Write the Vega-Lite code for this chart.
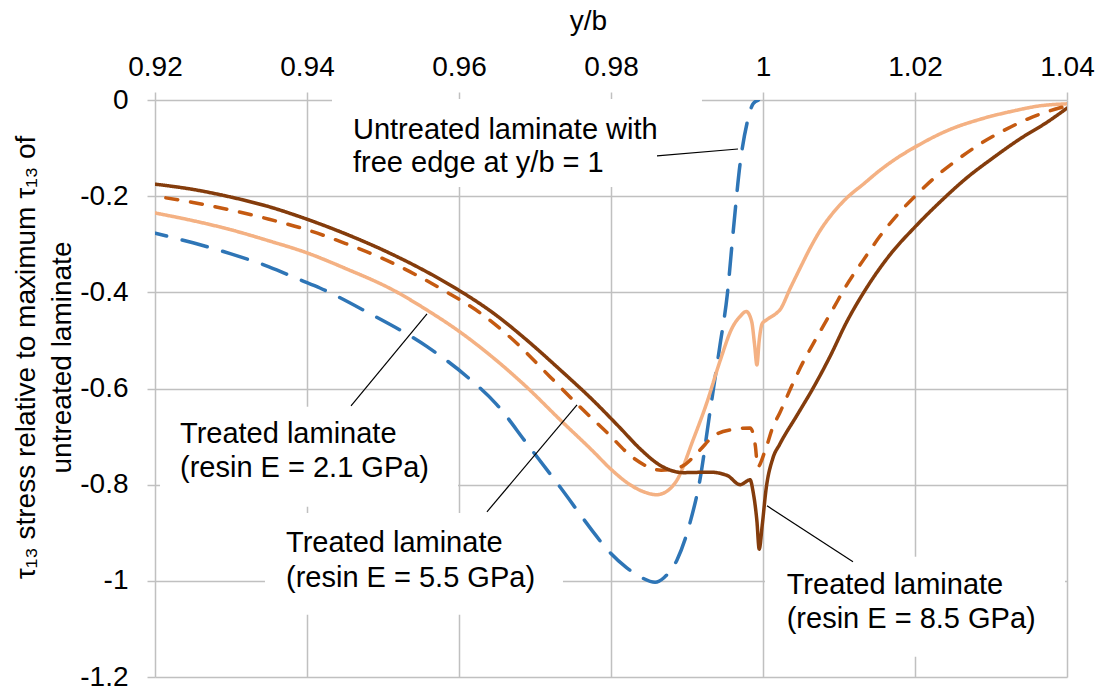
{
  "$schema": "https://vega.github.io/schema/vega-lite/v6.json",
  "width": 912,
  "height": 577,
  "autosize": {"type": "none"},
  "padding": {"left": 155, "top": 100, "right": 33, "bottom": 14},
  "background": "white",
  "config": {
    "view": {"stroke": null},
    "font": "Liberation Sans",
    "axis": {
      "labelFont": "Liberation Sans",
      "titleFont": "Liberation Sans",
      "labelFontSize": 28,
      "titleFontSize": 28,
      "labelColor": "#000000",
      "titleColor": "#000000",
      "titleFontWeight": "normal",
      "gridColor": "#C0C0C0",
      "gridWidth": 1.5,
      "tickColor": "#C0C0C0",
      "tickWidth": 1.5,
      "tickSize": 8,
      "domain": false
    }
  },
  "datasets": {
    "series": [
      {"s": "untreated", "x": 0.92, "y": -0.277},
      {"s": "untreated", "x": 0.925, "y": -0.297},
      {"s": "untreated", "x": 0.93, "y": -0.32},
      {"s": "untreated", "x": 0.935, "y": -0.347},
      {"s": "untreated", "x": 0.9391, "y": -0.374},
      {"s": "untreated", "x": 0.9417, "y": -0.391},
      {"s": "untreated", "x": 0.9479, "y": -0.441},
      {"s": "untreated", "x": 0.9558, "y": -0.513},
      {"s": "untreated", "x": 0.9611, "y": -0.576},
      {"s": "untreated", "x": 0.965, "y": -0.634},
      {"s": "untreated", "x": 0.9689, "y": -0.714},
      {"s": "untreated", "x": 0.9733, "y": -0.805},
      {"s": "untreated", "x": 0.9776, "y": -0.897},
      {"s": "untreated", "x": 0.9795, "y": -0.935},
      {"s": "untreated", "x": 0.982, "y": -0.972},
      {"s": "untreated", "x": 0.984, "y": -0.993},
      {"s": "untreated", "x": 0.9858, "y": -1.003},
      {"s": "untreated", "x": 0.987, "y": -0.993},
      {"s": "untreated", "x": 0.9887, "y": -0.956},
      {"s": "untreated", "x": 0.9904, "y": -0.879},
      {"s": "untreated", "x": 0.9917, "y": -0.79},
      {"s": "untreated", "x": 0.993, "y": -0.651},
      {"s": "untreated", "x": 0.9943, "y": -0.514},
      {"s": "untreated", "x": 0.9953, "y": -0.405},
      {"s": "untreated", "x": 0.9961, "y": -0.27},
      {"s": "untreated", "x": 0.997, "y": -0.131},
      {"s": "untreated", "x": 0.9979, "y": -0.048},
      {"s": "untreated", "x": 0.9987, "y": -0.008},
      {"s": "untreated", "x": 0.9994, "y": 0},

      {"s": "e21", "x": 0.92, "y": -0.235},
      {"s": "e21", "x": 0.925, "y": -0.251},
      {"s": "e21", "x": 0.93, "y": -0.27},
      {"s": "e21", "x": 0.935, "y": -0.293},
      {"s": "e21", "x": 0.94, "y": -0.318},
      {"s": "e21", "x": 0.945, "y": -0.35},
      {"s": "e21", "x": 0.9513, "y": -0.395},
      {"s": "e21", "x": 0.9558, "y": -0.437},
      {"s": "e21", "x": 0.96, "y": -0.481},
      {"s": "e21", "x": 0.9645, "y": -0.536},
      {"s": "e21", "x": 0.9689, "y": -0.597},
      {"s": "e21", "x": 0.9733, "y": -0.665},
      {"s": "e21", "x": 0.9776, "y": -0.73},
      {"s": "e21", "x": 0.98, "y": -0.768},
      {"s": "e21", "x": 0.9825, "y": -0.8},
      {"s": "e21", "x": 0.9845, "y": -0.816},
      {"s": "e21", "x": 0.986, "y": -0.821},
      {"s": "e21", "x": 0.9875, "y": -0.812},
      {"s": "e21", "x": 0.9887, "y": -0.79},
      {"s": "e21", "x": 0.9908, "y": -0.707},
      {"s": "e21", "x": 0.9926, "y": -0.63},
      {"s": "e21", "x": 0.9943, "y": -0.545},
      {"s": "e21", "x": 0.996, "y": -0.472},
      {"s": "e21", "x": 0.997, "y": -0.45},
      {"s": "e21", "x": 0.9978, "y": -0.44},
      {"s": "e21", "x": 0.9985, "y": -0.46},
      {"s": "e21", "x": 0.9989, "y": -0.51},
      {"s": "e21", "x": 0.9992, "y": -0.551},
      {"s": "e21", "x": 0.9995, "y": -0.5},
      {"s": "e21", "x": 0.9999, "y": -0.465},
      {"s": "e21", "x": 1.0005, "y": -0.457},
      {"s": "e21", "x": 1.0018, "y": -0.443},
      {"s": "e21", "x": 1.0022, "y": -0.437},
      {"s": "e21", "x": 1.0036, "y": -0.391},
      {"s": "e21", "x": 1.0049, "y": -0.349},
      {"s": "e21", "x": 1.0062, "y": -0.308},
      {"s": "e21", "x": 1.0075, "y": -0.272},
      {"s": "e21", "x": 1.0092, "y": -0.235},
      {"s": "e21", "x": 1.011, "y": -0.204},
      {"s": "e21", "x": 1.0132, "y": -0.175},
      {"s": "e21", "x": 1.0154, "y": -0.146},
      {"s": "e21", "x": 1.0176, "y": -0.121},
      {"s": "e21", "x": 1.02, "y": -0.098},
      {"s": "e21", "x": 1.0242, "y": -0.064},
      {"s": "e21", "x": 1.0286, "y": -0.04},
      {"s": "e21", "x": 1.0329, "y": -0.023},
      {"s": "e21", "x": 1.0365, "y": -0.012},
      {"s": "e21", "x": 1.04, "y": -0.008},

      {"s": "e55", "x": 0.92, "y": -0.2},
      {"s": "e55", "x": 0.925, "y": -0.213},
      {"s": "e55", "x": 0.93, "y": -0.229},
      {"s": "e55", "x": 0.935, "y": -0.248},
      {"s": "e55", "x": 0.94, "y": -0.27},
      {"s": "e55", "x": 0.945, "y": -0.298},
      {"s": "e55", "x": 0.95, "y": -0.33},
      {"s": "e55", "x": 0.9545, "y": -0.365},
      {"s": "e55", "x": 0.9579, "y": -0.395},
      {"s": "e55", "x": 0.9628, "y": -0.443},
      {"s": "e55", "x": 0.9667, "y": -0.493},
      {"s": "e55", "x": 0.972, "y": -0.576},
      {"s": "e55", "x": 0.9759, "y": -0.638},
      {"s": "e55", "x": 0.9795, "y": -0.692},
      {"s": "e55", "x": 0.983, "y": -0.745},
      {"s": "e55", "x": 0.9866, "y": -0.77},
      {"s": "e55", "x": 0.9892, "y": -0.763},
      {"s": "e55", "x": 0.9917, "y": -0.728},
      {"s": "e55", "x": 0.9934, "y": -0.7},
      {"s": "e55", "x": 0.9957, "y": -0.686},
      {"s": "e55", "x": 0.9983, "y": -0.682},
      {"s": "e55", "x": 0.999, "y": -0.72},
      {"s": "e55", "x": 0.9993, "y": -0.763},
      {"s": "e55", "x": 1.0003, "y": -0.728},
      {"s": "e55", "x": 1.0013, "y": -0.68},
      {"s": "e55", "x": 1.0022, "y": -0.651},
      {"s": "e55", "x": 1.0036, "y": -0.601},
      {"s": "e55", "x": 1.0049, "y": -0.557},
      {"s": "e55", "x": 1.0071, "y": -0.493},
      {"s": "e55", "x": 1.0092, "y": -0.435},
      {"s": "e55", "x": 1.011, "y": -0.385},
      {"s": "e55", "x": 1.0132, "y": -0.333},
      {"s": "e55", "x": 1.0154, "y": -0.283},
      {"s": "e55", "x": 1.018, "y": -0.233},
      {"s": "e55", "x": 1.02, "y": -0.2},
      {"s": "e55", "x": 1.0224, "y": -0.164},
      {"s": "e55", "x": 1.0255, "y": -0.125},
      {"s": "e55", "x": 1.0286, "y": -0.091},
      {"s": "e55", "x": 1.0321, "y": -0.06},
      {"s": "e55", "x": 1.0355, "y": -0.035},
      {"s": "e55", "x": 1.04, "y": -0.012},

      {"s": "e85", "x": 0.92, "y": -0.175},
      {"s": "e85", "x": 0.925, "y": -0.186},
      {"s": "e85", "x": 0.93, "y": -0.202},
      {"s": "e85", "x": 0.935, "y": -0.222},
      {"s": "e85", "x": 0.94, "y": -0.248},
      {"s": "e85", "x": 0.945, "y": -0.278},
      {"s": "e85", "x": 0.95, "y": -0.312},
      {"s": "e85", "x": 0.955, "y": -0.351},
      {"s": "e85", "x": 0.9597, "y": -0.393},
      {"s": "e85", "x": 0.9645, "y": -0.443},
      {"s": "e85", "x": 0.9689, "y": -0.499},
      {"s": "e85", "x": 0.9733, "y": -0.561},
      {"s": "e85", "x": 0.9776, "y": -0.624},
      {"s": "e85", "x": 0.9812, "y": -0.682},
      {"s": "e85", "x": 0.9838, "y": -0.725},
      {"s": "e85", "x": 0.9865, "y": -0.76},
      {"s": "e85", "x": 0.9895, "y": -0.775},
      {"s": "e85", "x": 0.993, "y": -0.774},
      {"s": "e85", "x": 0.9953, "y": -0.781},
      {"s": "e85", "x": 0.997, "y": -0.8},
      {"s": "e85", "x": 0.9983, "y": -0.79},
      {"s": "e85", "x": 0.9987, "y": -0.815},
      {"s": "e85", "x": 0.9992, "y": -0.876},
      {"s": "e85", "x": 0.9995, "y": -0.934},
      {"s": "e85", "x": 0.9999, "y": -0.884},
      {"s": "e85", "x": 1.0004, "y": -0.81},
      {"s": "e85", "x": 1.0013, "y": -0.745},
      {"s": "e85", "x": 1.0022, "y": -0.716},
      {"s": "e85", "x": 1.0045, "y": -0.655},
      {"s": "e85", "x": 1.0066, "y": -0.599},
      {"s": "e85", "x": 1.0088, "y": -0.534},
      {"s": "e85", "x": 1.011, "y": -0.462},
      {"s": "e85", "x": 1.0137, "y": -0.389},
      {"s": "e85", "x": 1.0167, "y": -0.322},
      {"s": "e85", "x": 1.02, "y": -0.264},
      {"s": "e85", "x": 1.0233, "y": -0.212},
      {"s": "e85", "x": 1.0268, "y": -0.162},
      {"s": "e85", "x": 1.0303, "y": -0.12},
      {"s": "e85", "x": 1.0338, "y": -0.081},
      {"s": "e85", "x": 1.0374, "y": -0.046},
      {"s": "e85", "x": 1.04, "y": -0.017}
    ],
    "boxes": [
      {"x": 0.94329, "x2": 0.99197, "y": 0.002, "y2": -0.181},
      {"x": 0.92066, "x2": 0.95987, "y": -0.638, "y2": -0.846},
      {"x": 0.93447, "x2": 0.97368, "y": -0.859, "y2": -1.0707},
      {"x": 1.00026, "x2": 1.03974, "y": -0.95, "y2": -1.158}
    ],
    "leaders": [
      {"x": 0.98605, "y": -0.1164, "x2": 0.99671, "y2": -0.1019},
      {"x": 0.94579, "y": -0.6362, "x2": 0.95579, "y2": -0.4449},
      {"x": 0.96368, "y": -0.8565, "x2": 0.97553, "y2": -0.6341},
      {"x": 1.00053, "y": -0.8441, "x2": 1.01184, "y2": -0.9605}
    ],
    "labels": [
      {"x": 0.94605, "y": -0.0811, "t": "Untreated laminate with"},
      {"x": 0.94605, "y": -0.1497, "t": "free edge at y/b = 1"},
      {"x": 0.92329, "y": -0.7131, "t": "Treated laminate"},
      {"x": 0.92329, "y": -0.7832, "t": "(resin E = 2.1 GPa)"},
      {"x": 0.93724, "y": -0.941, "t": "Treated laminate"},
      {"x": 0.93724, "y": -1.0118, "t": "(resin E = 5.5 GPa)"},
      {"x": 1.00312, "y": -1.0277, "t": "Treated laminate"},
      {"x": 1.00312, "y": -1.0984, "t": "(resin E = 8.5 GPa)"}
    ]
  },
  "encoding": {
    "x": {
      "field": "x", "type": "quantitative",
      "scale": {"domain": [0.92, 1.04], "nice": false, "zero": false},
      "axis": {
        "orient": "top",
        "values": [0.92, 0.94, 0.96, 0.98, 1, 1.02, 1.04],
        "labelExpr": "format(datum.value, '.2~f')",
        "labelBaseline": "alphabetic",
        "labelPadding": 17,
        "labelFlush": false,
        "labelOverlap": false,
        "title": "y/b",
        "titleAngle": 0,
        "titleAlign": "center",
        "titleBaseline": "alphabetic",
        "titleX": 433,
        "titleY": -71
      }
    },
    "y": {
      "field": "y", "type": "quantitative",
      "scale": {"domain": [-1.2, 0], "nice": false, "zero": false},
      "axis": {
        "orient": "left",
        "values": [0, -0.2, -0.4, -0.6, -0.8, -1, -1.2],
        "labelExpr": "datum.value < 0 ? '-' + format(-datum.value, '.1~f') : format(datum.value, '.1~f')",
        "labelPadding": 19,
        "labelFlush": false,
        "labelOverlap": false,
        "title": ["τ₁₃ stress relative to maximum τ₁₃ of", "untreated laminate"],
        "titleAngle": 270,
        "titleAlign": "center",
        "titleBaseline": "alphabetic",
        "titleLineHeight": 36,
        "titleX": -121,
        "titleY": 257
      }
    }
  },
  "layer": [
    {
      "data": {"name": "boxes"},
      "mark": {"type": "rect", "fill": "white", "stroke": null},
      "encoding": {
        "x2": {"field": "x2"},
        "y2": {"field": "y2"}
      }
    },
    {
      "data": {"name": "series"},
      "mark": {"type": "line", "interpolate": "monotone", "strokeWidth": 3.5, "strokeCap": "round", "strokeDashOffset": 14, "clip": true},
      "encoding": {
        "color": {
          "field": "s", "type": "nominal", "legend": null,
          "scale": {"domain": ["untreated", "e21", "e55", "e85"], "range": ["#2E75B6", "#F4B183", "#C55A11", "#843C0C"]}
        },
        "strokeDash": {
          "field": "s", "type": "nominal", "legend": null,
          "scale": {"domain": ["untreated", "e21", "e55", "e85"], "range": [[26, 16], [1, 0], [12, 13], [1, 0]]}
        }
      }
    },
    {
      "data": {"name": "leaders"},
      "mark": {"type": "rule", "color": "black", "strokeWidth": 1.2},
      "encoding": {
        "x2": {"field": "x2"},
        "y2": {"field": "y2"}
      }
    },
    {
      "data": {"name": "labels"},
      "mark": {"type": "text", "align": "left", "baseline": "alphabetic", "fontSize": 29, "font": "Liberation Sans", "color": "black"},
      "encoding": {
        "text": {"field": "t", "type": "nominal"}
      }
    }
  ]
}
